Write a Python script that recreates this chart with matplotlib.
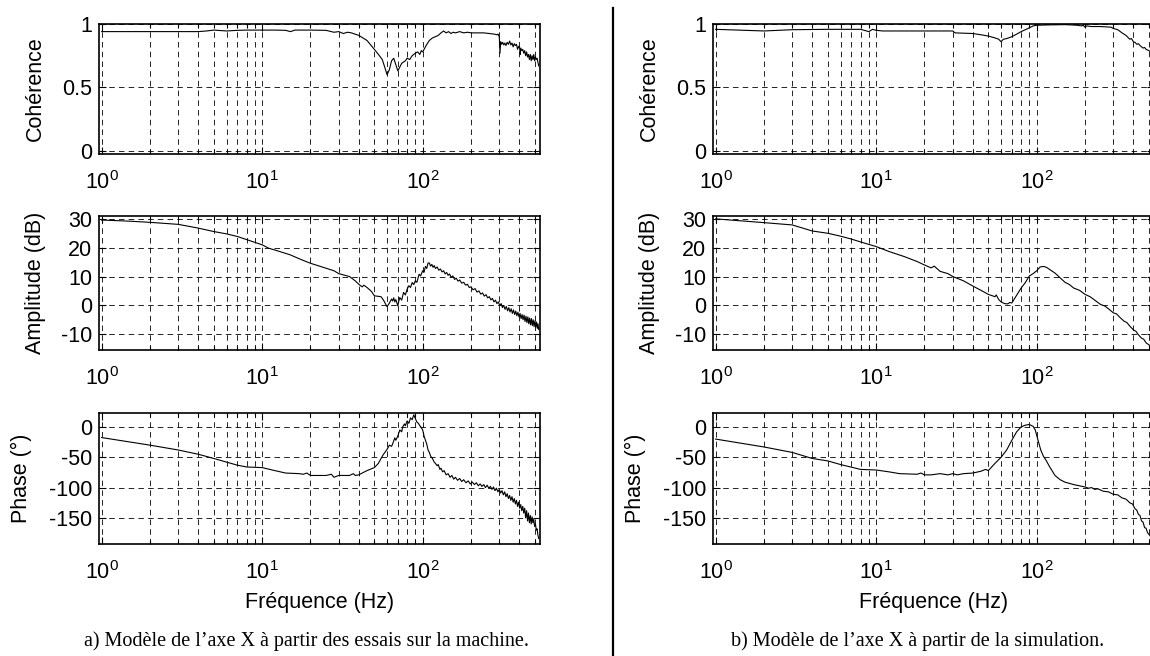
import matplotlib
matplotlib.use("Agg")
import matplotlib.pyplot as plt
from matplotlib.lines import Line2D
from matplotlib.ticker import LogLocator, NullFormatter
import numpy as np

plt.rcParams['font.family'] = ['Liberation Sans', 'DejaVu Sans']
plt.rcParams['mathtext.fontset'] = 'custom'
plt.rcParams['mathtext.rm'] = 'Liberation Sans'
plt.rcParams['mathtext.it'] = 'Liberation Sans'
plt.rcParams['lines.scale_dashes'] = False

# ---- (a) tests on the machine: (frequency Hz, value)
coh_machine = [
    (1, 0.94), (2, 0.94), (3, 0.94), (4, 0.94), (4.5, 0.945), (5, 0.952), (6, 0.945),
    (7, 0.95), (8, 0.952), (10, 0.952), (12, 0.952), (14, 0.95), (15, 0.94), (16, 0.952),
    (20, 0.952), (25, 0.95), (28, 0.935), (30, 0.94), (32, 0.925), (34, 0.935), (36, 0.93),
    (40, 0.91), (45, 0.87), (50, 0.80), (53, 0.76), (56, 0.72), (58, 0.66), (60, 0.60),
    (62, 0.64), (64, 0.71), (66, 0.73), (68, 0.68), (70, 0.63), (72, 0.66), (74, 0.69),
    (76, 0.70), (78, 0.71), (80, 0.73), (83, 0.72), (86, 0.75), (90, 0.77), (93, 0.78),
    (96, 0.76), (98, 0.79), (100, 0.78), (102, 0.80), (105, 0.83), (110, 0.87), (115, 0.89),
    (120, 0.90), (125, 0.91), (130, 0.93), (135, 0.945), (140, 0.93), (145, 0.94),
    (150, 0.925), (155, 0.935), (160, 0.93), (170, 0.94), (180, 0.93), (190, 0.935),
    (200, 0.93), (220, 0.93), (240, 0.93), (260, 0.925), (280, 0.92), (290, 0.915),
    (295, 0.92), (300, 0.90), (303, 0.77), (306, 0.86), (310, 0.84), (315, 0.855),
    (320, 0.835), (325, 0.85), (330, 0.83), (336, 0.855), (342, 0.84), (348, 0.865),
    (354, 0.835), (360, 0.85), (366, 0.82), (372, 0.845), (378, 0.83), (384, 0.84),
    (390, 0.80), (396, 0.825), (402, 0.81), (405, 0.76), (408, 0.81), (414, 0.79),
    (420, 0.80), (426, 0.77), (432, 0.79), (438, 0.75), (444, 0.78), (450, 0.74),
    (456, 0.76), (462, 0.72), (468, 0.76), (474, 0.71), (480, 0.75), (486, 0.72),
    (492, 0.76), (498, 0.71), (504, 0.74), (510, 0.72), (516, 0.73), (522, 0.70),
    (528, 0.67),
]

amp_machine = [
    (1, 29.6), (1.5, 29.2), (2, 28.8), (3, 28.1), (4, 26.8), (5, 25.6), (6, 24.8),
    (7, 23.9), (8, 22.8), (10, 21.0), (11, 19.8), (12, 19.2), (15, 17.5), (16, 16.8),
    (18, 15.6), (20, 14.6), (25, 12.9), (28, 12.0), (30, 11.0), (33, 10.4), (35, 10.0),
    (38, 8.5), (40, 7.3), (42, 6.4), (43, 7.0), (45, 6.2), (48, 4.8), (50, 3.3),
    (53, 3.1), (55, 3.0), (57, 1.8), (60, -0.5), (62, 0.8), (64, 2.2), (65, 1.5),
    (66, 2.6), (67, 1.2), (68, 2.0), (70, -0.2), (71, 1.5), (72, 2.7), (74, 1.8),
    (76, 4.5), (78, 3.6), (80, 5.6), (82, 6.8), (84, 6.2), (86, 7.9), (88, 7.2),
    (90, 8.5), (92, 8.0), (95, 10.8), (97, 10.2), (100, 12.0), (102, 11.5), (104, 13.5),
    (106, 12.8), (108, 14.7), (110, 14.7), (112, 13.6), (114, 14.2), (116, 13.2),
    (118, 13.8), (120, 12.8), (123, 13.3), (126, 12.2), (129, 12.6), (132, 11.6),
    (135, 12.0), (138, 10.9), (141, 11.4), (144, 10.4), (147, 10.9), (150, 9.8),
    (154, 10.2), (158, 9.0), (162, 9.4), (166, 8.4), (170, 8.8), (175, 7.7), (180, 8.0),
    (185, 7.0), (190, 7.3), (195, 6.2), (200, 6.4), (206, 5.4), (212, 5.8), (218, 4.6),
    (224, 5.0), (230, 3.9), (236, 4.3), (242, 3.2), (248, 3.7), (254, 2.6), (260, 3.0),
    (266, 1.9), (272, 2.4), (278, 1.2), (284, 1.8), (290, 0.6), (296, 1.2), (302, -0.1),
    (308, 0.6), (314, -0.8), (320, 0.0), (326, -1.4), (332, -0.4), (338, -1.9),
    (344, -0.8), (350, -2.3), (356, -1.2), (362, -2.8), (368, -1.6), (374, -3.2),
    (380, -2.0), (386, -3.6), (392, -2.4), (398, -4.0), (404, -2.8), (410, -4.6),
    (416, -3.2), (422, -5.0), (428, -3.4), (434, -5.6), (440, -3.8), (446, -6.0),
    (452, -4.0), (458, -6.4), (464, -4.4), (470, -6.8), (476, -4.6), (482, -7.0),
    (488, -5.0), (494, -7.4), (500, -5.4), (506, -7.6), (512, -5.8), (518, -8.0),
    (523, -6.4), (528, -8.4),
]

phase_machine = [
    (1, -17.5), (2, -30), (3, -38), (4, -45), (5, -52), (6, -58), (7, -63), (8, -66),
    (10, -67), (12, -72), (14, -76), (17, -77), (18, -78), (19, -76), (20, -80),
    (22, -80), (25, -80), (27, -78), (28, -83), (30, -80), (35, -80), (37, -77),
    (38, -80), (40, -79), (42, -76), (45, -72), (50, -67), (53, -60), (55, -52),
    (57, -45), (60, -37), (62, -30), (64, -32), (65, -28), (67, -18), (68, -22),
    (70, -15), (72, -5), (74, -8), (75, 0), (77, 5), (78, 2), (80, 10), (82, 6),
    (84, 15), (86, 12), (88, 20), (90, 14), (92, 8), (94, 6), (96, 2), (98, -1),
    (100, -5), (102, -15), (104, -22), (106, -28), (108, -38), (110, -42), (112, -48),
    (115, -52), (118, -58), (120, -60), (123, -64), (125, -62), (128, -70), (130, -68),
    (133, -74), (136, -72), (140, -79), (144, -77), (148, -83), (152, -80), (156, -86),
    (160, -83), (165, -88), (170, -85), (175, -90), (180, -87), (186, -92), (192, -89),
    (198, -94), (204, -91), (210, -95), (216, -92), (222, -97), (228, -94), (234, -98),
    (240, -95), (246, -100), (252, -96), (258, -101), (264, -98), (270, -103),
    (276, -99), (282, -105), (288, -101), (294, -107), (300, -103), (306, -109),
    (312, -105), (318, -112), (324, -107), (330, -115), (336, -110), (342, -118),
    (348, -113), (354, -121), (360, -115), (366, -124), (372, -118), (378, -127),
    (384, -121), (390, -131), (396, -124), (402, -134), (408, -128), (414, -138),
    (420, -131), (426, -142), (432, -134), (438, -150), (444, -138), (450, -155),
    (456, -142), (462, -158), (468, -146), (474, -160), (480, -148), (486, -158),
    (492, -152), (498, -164), (504, -160), (510, -170), (516, -168), (522, -178),
    (528, -184),
]

# ---- (b) simulation
coh_sim = [
    (1, 0.958), (2, 0.945), (3, 0.955), (5, 0.958), (8, 0.958), (9, 0.94), (9.5, 0.958),
    (10, 0.95), (11, 0.945), (20, 0.945), (30, 0.945), (31, 0.93), (40, 0.925),
    (45, 0.915), (50, 0.905), (55, 0.89), (58, 0.88), (60, 0.86), (62, 0.88), (65, 0.885),
    (70, 0.90), (75, 0.92), (80, 0.94), (85, 0.955), (90, 0.97), (95, 0.985), (100, 0.99),
    (120, 0.993), (150, 0.995), (180, 0.99), (190, 0.985), (195, 0.99), (200, 0.975),
    (205, 0.985), (220, 0.98), (250, 0.98), (290, 0.975), (300, 0.965), (320, 0.955),
    (340, 0.93), (360, 0.91), (380, 0.88), (390, 0.885), (400, 0.86), (410, 0.855),
    (420, 0.84), (430, 0.845), (440, 0.83), (450, 0.82), (460, 0.81), (470, 0.815),
    (480, 0.80), (500, 0.79), (528, 0.77),
]

amp_sim = [
    (1, 30.0), (2, 28.7), (3, 27.9), (4, 25.8), (5, 25.0), (6, 24.0), (7, 23.0),
    (8, 22.0), (10, 20.4), (12, 18.7), (15, 16.9), (18, 15.2), (20, 14.0), (22, 13.0),
    (23, 13.6), (25, 11.8), (28, 11.0), (30, 10.0), (35, 8.5), (40, 6.7), (45, 5.2),
    (50, 3.8), (55, 3.0), (56, 3.6), (58, 2.0), (60, 1.2), (63, 0.6), (66, 0.5),
    (68, 1.0), (70, 0.8), (75, 3.5), (80, 6.0), (85, 7.9), (90, 10.2), (95, 11.0),
    (100, 12.0), (105, 13.3), (110, 13.5), (115, 13.2), (120, 12.5), (130, 11.2),
    (150, 8.0), (160, 7.2), (170, 6.0), (185, 5.2), (200, 3.8), (215, 3.0), (230, 1.8),
    (250, 0.3), (265, -0.2), (280, -1.2), (300, -2.6), (315, -3.0), (330, -4.2),
    (350, -5.5), (365, -6.0), (380, -7.2), (400, -8.5), (415, -9.0), (430, -10.2),
    (450, -11.4), (465, -11.8), (480, -13.0), (500, -13.7), (530, -15.2),
]

phase_sim = [
    (1, -20), (2, -33), (3, -42), (4, -52), (5, -56), (6, -62), (8, -70), (10, -71),
    (12, -74), (14, -77), (18, -78), (19, -76), (20, -79), (22, -79), (25, -77),
    (28, -79), (30, -77), (32, -79), (35, -77), (40, -76), (45, -73), (48, -70),
    (50, -72), (55, -60), (60, -50), (65, -38), (70, -22), (75, -8), (80, 0), (85, 3),
    (90, 4), (95, 1), (98, -5), (102, -22), (106, -38), (110, -48), (115, -56),
    (120, -65), (130, -80), (140, -87), (150, -91), (170, -95), (200, -99), (210, -101),
    (220, -100), (230, -103), (240, -102), (260, -106), (280, -107), (300, -111),
    (320, -112), (340, -117), (360, -119), (380, -125), (395, -127), (410, -135),
    (420, -137), (430, -144), (440, -146), (450, -155), (460, -157), (470, -166),
    (480, -167), (490, -174), (510, -180), (530, -188),
]

row_labels = ["Cohérence", "Amplitude (dB)", "Phase (°)"]
row_ticks = [[0, 0.5, 1], [-10, 0, 10, 20, 30], [-150, -100, -50, 0]]
row_ticklabels = [["0", "0.5", "1"], ["-10", "0", "10", "20", "30"],
                  ["-150", "-100", "-50", "0"]]
row_limits = [(-0.025, 1.0), (-15.5, 31.0), (-193, 23)]
freq_label = "Fréquence (Hz)"
captions = ["a) Modèle de l’axe X à partir des essais sur la machine.",
            "b) Modèle de l’axe X à partir de la simulation."]

W, H = 1150, 656
fig = plt.figure(figsize=(W / 100, H / 100), dpi=100)

col_left = [99, 713]
col_width = 441
rows_px = [(24, 154), (216, 350), (413, 544)]
ylabel_x = [-0.12, -0.12, -0.152]

series = [[coh_machine, amp_machine, phase_machine],
          [coh_sim, amp_sim, phase_sim]]

for c in range(2):
    for r in range(3):
        top, bot = rows_px[r]
        ax = fig.add_axes([col_left[c] / W, 1 - bot / H, col_width / W, (bot - top) / H])
        pts = series[c][r]
        f = [p[0] for p in pts]
        v = [p[1] for p in pts]
        ax.plot(f, v, color='k', lw=0.8)
        ax.set_xscale('log')
        ax.set_xlim(0.963, 538)
        ax.set_ylim(*row_limits[r])
        ax.set_yticks(row_ticks[r])
        ax.set_yticklabels(row_ticklabels[r])
        ax.xaxis.set_major_locator(LogLocator(base=10, numticks=10))
        ax.xaxis.set_minor_locator(LogLocator(base=10, subs=np.arange(2, 10), numticks=20))
        ax.xaxis.set_minor_formatter(NullFormatter())
        ax.grid(True, which='major', axis='both', color='k', lw=0.6, linestyle=(0, (4, 3)))
        ax.grid(True, which='minor', axis='x', color='k', lw=0.6, linestyle=(0, (4, 3)))
        ax.tick_params(which='both', direction='in', top=True, right=True, labelsize=15.5,
                       width=0.8)
        ax.tick_params(which='major', length=5)
        ax.tick_params(which='minor', length=3)
        ax.tick_params(axis='x', pad=12)
        ax.tick_params(axis='y', pad=5)
        for s in ax.spines.values():
            s.set_linewidth(1.2)
        ax.set_ylabel(row_labels[r], fontsize=15.5)
        ax.yaxis.set_label_coords(ylabel_x[r], 0.5)
        if r == 2:
            ax.set_xlabel(freq_label, fontsize=15.5, labelpad=6)

fig.text(306 / W, 1 - 641 / H, captions[0], ha='center', va='center',
         fontsize=14.5, family='Liberation Serif')
fig.text(918 / W, 1 - 641 / H, captions[1], ha='center', va='center',
         fontsize=14.5, family='Liberation Serif')

fig.add_artist(Line2D([613 / W, 613 / W], [0, 1 - 8 / H], color='k', lw=1.6))

fig.savefig("out.png", dpi=100)
